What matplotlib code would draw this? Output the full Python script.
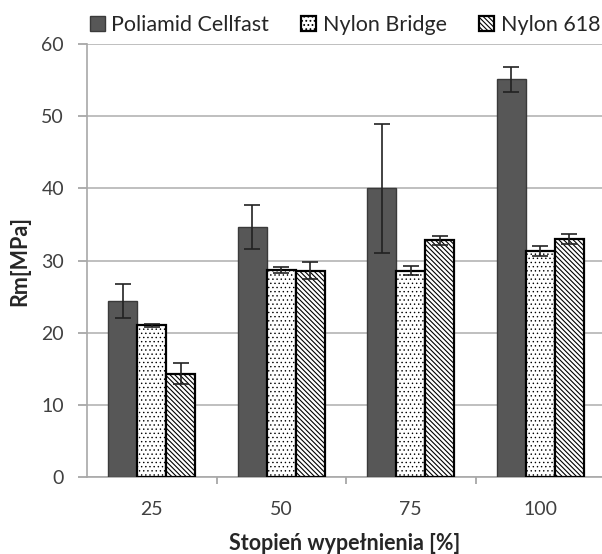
import numpy as np
import matplotlib
matplotlib.use('Agg')
import matplotlib.pyplot as plt
from matplotlib.ticker import FixedLocator

plt.rcParams['font.family'] = ['Lato', 'DejaVu Sans']

# dane
kategorie = ['25', '50', '75', '100']
serie = ['Poliamid Cellfast', 'Nylon Bridge', 'Nylon 618']
cellfast = [24.4, 34.6, 40.0, 55.1]
cellfast_err = [2.4, 3.05, 8.9, 1.7]
bridge = [21.0, 28.7, 28.6, 31.3]
bridge_err = [0.15, 0.4, 0.6, 0.7]
nylon618 = [14.3, 28.6, 32.8, 33.0]
nylon618_err = [1.45, 1.15, 0.6, 0.65]

wartosci = [cellfast, bridge, nylon618]
bledy = [cellfast_err, bridge_err, nylon618_err]
kolory = ['#575757', 'white', 'white']
krawedzie = ['#3a3a3a', 'black', 'black']
wzory = [None, '....', '\\' * 7]
grubosc_wzoru = [1.0, 0.5, 0.8]

fig = plt.figure(figsize=(6.02, 5.54), dpi=100)
ax = fig.add_axes([87 / 602, 77 / 554, 515 / 602, 433 / 554])

x = np.arange(len(kategorie))
w = 0.224
for i in range(3):
    plt.rcParams['hatch.linewidth'] = grubosc_wzoru[i]
    ax.bar(x + (i - 1) * w, wartosci[i], width=w, color=kolory[i],
           edgecolor=krawedzie[i], linewidth=1.6 if i else 1.0,
           hatch=wzory[i], label=serie[i], zorder=3)
    ax.errorbar(x + (i - 1) * w, wartosci[i], yerr=bledy[i], fmt='none',
                ecolor='#222222', elinewidth=1.2, capsize=5.5, capthick=1.2,
                zorder=4)

ax.set_xlim(-0.5, -0.5 + 515 / 129.5)
ax.set_ylim(0, 60)
ax.set_yticks(np.arange(0, 61, 10))
ax.yaxis.grid(True, color='#b4b4b4', linewidth=1.2, zorder=0)

ax.set_xticks(x)
ax.set_xticklabels(kategorie)
ax.xaxis.set_minor_locator(FixedLocator([0.5, 1.5, 2.5]))
ax.tick_params(axis='x', which='major', length=0, pad=17, labelsize=14,
               labelcolor='#404040')
ax.tick_params(axis='x', which='minor', length=5, width=1.2, color='#a0a0a0')
ax.tick_params(axis='y', length=6.5, width=1.2, color='#a0a0a0', pad=10,
               labelsize=14, labelcolor='#404040')

for s in ['top', 'right']:
    ax.spines[s].set_visible(False)
for s in ['left', 'bottom']:
    ax.spines[s].set_color('#a8a8a8')
    ax.spines[s].set_linewidth(1.2)

ax.set_ylabel('Rm[MPa]', fontsize=15.5, fontweight='bold', color='#262626',
              labelpad=8)
ax.set_xlabel('Stopień wypełnienia [%]', fontsize=15.5, fontweight='bold',
              color='#262626', labelpad=11)

fig.legend(loc='center', bbox_to_anchor=(345 / 602, 1 - 25 / 554), ncol=3,
           frameon=False, fontsize=15.5, handlelength=0.7, handleheight=0.7,
           handletextpad=0.3, columnspacing=1.5, labelcolor='#262626')

fig.savefig('out.png', dpi=100)
